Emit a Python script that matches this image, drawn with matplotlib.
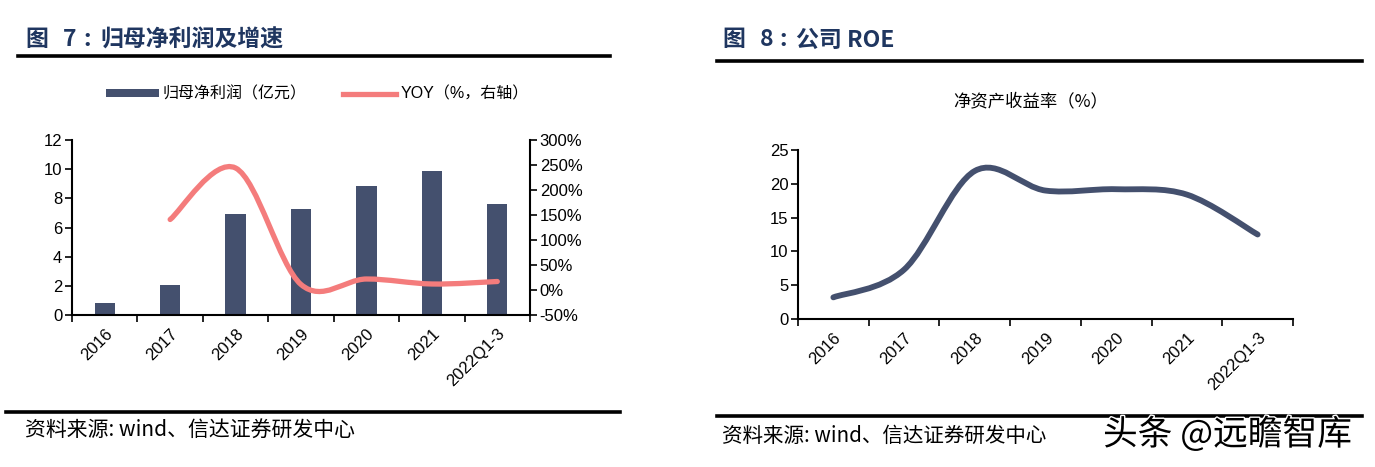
import matplotlib
matplotlib.use("Agg")
import matplotlib.pyplot as plt
import numpy as np
from matplotlib.path import Path
from matplotlib.patches import PathPatch, Patch
from matplotlib.lines import Line2D
import matplotlib.patheffects as pe

# ---------------- data ----------------
categories = ["2016", "2017", "2018", "2019", "2020", "2021", "2022Q1-3"]
net_profit = [0.85, 2.05, 6.95, 7.3, 8.85, 9.85, 7.6]          # 亿元
yoy = [np.nan, 141, 244, 11, 22, 12, 17]                        # %
roe = [3.2, 7.3, 21.9, 19.0, 19.2, 18.4, 12.5]                  # %

left_yticks = [0, 2, 4, 6, 8, 10, 12]
right_yticks = [-50, 0, 50, 100, 150, 200, 250, 300]
roe_yticks = [0, 5, 10, 15, 20, 25]

# ---------------- style ----------------
BAR_C = "#44506e"
PINK = "#f47c7c"
NAVY = "#1f3660"
LAT = ["Liberation Sans", "Noto Sans CJK SC", "DejaVu Sans"]
CJK = ["Noto Sans CJK SC", "DejaVu Sans"]
plt.rcParams["font.family"] = LAT

W, H = 1375, 467
fig = plt.figure(figsize=(W / 100, H / 100), dpi=100)
TICK_FS = 12


def fx(x):
    return x / W


def fy(y):
    return 1 - y / H


def smooth_path(xs, ys):
    """Excel-like smoothed line as cubic Bezier path through the data points."""
    pts = [(x, y) for x, y in zip(xs, ys) if not np.isnan(y)]
    verts = [pts[0]]
    codes = [Path.MOVETO]
    n = len(pts)
    for i in range(n - 1):
        p0 = pts[i - 1] if i > 0 else pts[i]
        p1 = pts[i]
        p2 = pts[i + 1]
        p3 = pts[i + 2] if i + 2 < n else pts[i + 1]
        c1 = (p1[0] + (p2[0] - p0[0]) / 6, p1[1] + (p2[1] - p0[1]) / 6)
        c2 = (p2[0] - (p3[0] - p1[0]) / 6, p2[1] - (p3[1] - p1[1]) / 6)
        verts += [c1, c2, p2]
        codes += [Path.CURVE4] * 3
    return Path(verts, codes)


def style_cat_axis(ax, n):
    ax.set_xlim(-0.5, n - 0.5)
    ax.set_xticks(range(n))
    ax.set_xticklabels(categories, rotation=45, ha="right", rotation_mode="anchor",
                       fontsize=TICK_FS)
    ax.set_xticks(np.arange(-0.5, n, 1.0), minor=True)
    ax.tick_params(axis="x", which="major", length=0, pad=8)
    ax.tick_params(axis="x", which="minor", length=5, width=1.2, direction="out")
    ax.tick_params(axis="y", length=5, width=1.2, direction="out", labelsize=TICK_FS, pad=2)
    for s in ["top", "right"]:
        ax.spines[s].set_visible(False)
    for s in ["left", "bottom"]:
        ax.spines[s].set_linewidth(1.5)
    ax.set_facecolor("none")


# ---------------- left chart ----------------
ax1 = fig.add_axes([fx(72), fy(315), fx(530 - 72), (315 - 140) / H])
x = np.arange(len(categories))
bars = ax1.bar(x, net_profit, width=0.31, color=BAR_C, zorder=2)
ax1.set_ylim(0, 12)
ax1.set_yticks(left_yticks)
style_cat_axis(ax1, len(categories))

ax2 = ax1.twinx()
ax2.set_ylim(-50, 300)
ax2.set_yticks(right_yticks)
ax2.set_yticklabels([f"{v}%" for v in right_yticks])
ax2.tick_params(axis="y", length=5, width=1.2, direction="out", labelsize=TICK_FS, pad=2)
for s in ["top", "left", "bottom"]:
    ax2.spines[s].set_visible(False)
ax2.spines["right"].set_linewidth(1.5)
ax2.add_patch(PathPatch(smooth_path(x, yoy), facecolor="none", edgecolor=PINK,
                        lw=3.8, capstyle="round", zorder=3))

handles = [Patch(facecolor=BAR_C, edgecolor="none", label="归母净利润（亿元）"),
           Line2D([0], [0], color=PINK, lw=3.8, label="YOY（%，右轴）")]
fig.legend(handles=handles, loc="center left", bbox_to_anchor=(fx(106), fy(94)),
           ncol=2, frameon=False, fontsize=11.5, handlelength=3.3, handleheight=0.45,
           handletextpad=0.25, columnspacing=2.3, borderpad=0, borderaxespad=0)

# ---------------- right chart ----------------
ax3 = fig.add_axes([fx(798), fy(319), fx(1293 - 798), (319 - 150) / H])
ax3.set_ylim(0, 25)
ax3.set_yticks(roe_yticks)
style_cat_axis(ax3, len(categories))
ax3.add_patch(PathPatch(smooth_path(x, roe), facecolor="none", edgecolor=BAR_C,
                        lw=4.2, capstyle="round", zorder=3))
fig.text(fx(1031), fy(101), "净资产收益率（%）", ha="center", va="center",
         fontsize=12.5, family=CJK)

# ---------------- headers, rules, sources ----------------
HFS = 16.5
for (xp, s) in [(25, "图"), (63, "7"), (83, ":"), (100, "归母净利润及增速"),
                (722, "图"), (760, "8"), (779, ":"), (796, "公司 ROE")]:
    fig.text(fx(xp), fy(40), s, ha="left", va="center", fontsize=HFS,
             fontweight="bold", color=NAVY, family=CJK)

for (x0, x1, y) in [(18, 610, 56), (717, 1362, 61), (6, 620, 412), (717, 1362, 416)]:
    fig.add_artist(Line2D([fx(x0), fx(x1)], [fy(y), fy(y)], color="black", lw=2.6,
                          transform=fig.transFigure))

fig.text(fx(25), fy(430), "资料来源: wind、信达证券研发中心", ha="left", va="center",
         fontsize=15, style="italic", family=CJK)
fig.text(fx(722), fy(436), "资料来源: wind、信达证券研发中心", ha="left", va="center",
         fontsize=14.8, style="italic", family=CJK)

fig.text(fx(1103), fy(435), "头条 @远瞻智库", ha="left", va="center", fontsize=25,
         color="black", family=CJK,
         path_effects=[pe.withStroke(linewidth=2, foreground="white")])

fig.savefig("out.png", dpi=100, facecolor="white")
